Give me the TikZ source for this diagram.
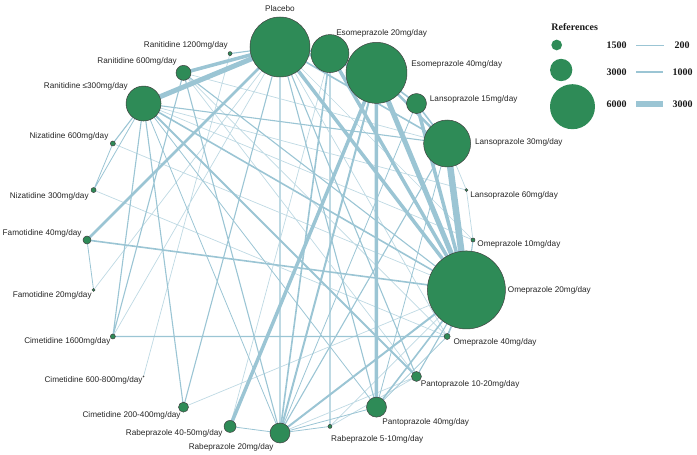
\documentclass[tikz,border=0pt]{standalone}
\usepackage{fontspec}
\setmainfont{Liberation Sans}
\newfontfamily\legendfont{Liberation Serif}
\usepackage[svgnames]{xcolor}
\usepackage{tikz}
\usetikzlibrary{
  positioning
}
\pgfdeclarelayer{links}
\pgfsetlayers{links,main}
\definecolor{linkblue}{RGB}{155,197,212}
\definecolor{faintblue}{RGB}{190,217,227}
\colorlet{drug}{SeaGreen}
\tikzset{
  every drug/.style={circle,draw=black!75,line width=.5pt,fill=drug,inner sep=0pt},
  drug/.style={every drug,minimum size=#1},
  legcirc/.style={circle,fill=drug,inner sep=0pt,minimum size=#1},
  lab/.style={inner sep=0pt,text=black!85,font=\fontsize{8.2}{9}\selectfont},
  legend/.style={inner sep=0pt,text=black!90,font=\legendfont\bfseries\fontsize{10}{12}\selectfont},
  link/.style={draw=linkblue,line width=#1},
  faint/.style={draw=faintblue,line width=#1},
}

\begin{document}
\begin{tikzpicture}[x=1pt,y=1pt]
\useasboundingbox (-280,240) rectangle (417,-215);
\node[drug=60pt] (P) at (90:193) {};
\node[drug=38pt] (E20) at (75:193) {};
\node[drug=61pt] (E40) at (60:193) {};
\node[drug=20pt] (L15) at (45:193) {};
\node[drug=47pt] (L30) at (30:193) {};
\node[drug=3pt] (L60) at (15:193) {};
\node[drug=4pt] (O10) at (0:193) {};
\node[drug=78pt] (O20) at (-15:193) {};
\node[drug=6pt] (O40) at (-30:193) {};
\node[drug=10pt] (PA1) at (-45:193) {};
\node[drug=20pt] (PA4) at (-60:193) {};
\node[drug=4pt] (R5) at (-75:193) {};
\node[drug=20pt] (R20) at (-90:193) {};
\node[drug=12pt] (R4) at (-105:193) {};
\node[drug=10pt] (C2) at (-120:193) {};
\node[drug=1pt] (C6) at (-135:193) {};
\node[drug=5pt] (C16) at (-150:193) {};
\node[drug=3pt] (F2) at (-165:193) {};
\node[drug=8pt] (F4) at (180:193) {};
\node[drug=5pt] (N3) at (165:193) {};
\node[drug=5pt] (N6) at (150:193) {};
\node[drug=35pt] (RA3) at (135:193) {};
\node[drug=15pt] (RA6) at (120:193) {};
\node[drug=4pt] (RA12) at (105:193) {};

\node[lab,above=5pt of P] (P-l) {Placebo};
\node[lab,above right=2.5pt and -7.5pt of E20] (E20-l) {Esomeprazole 20mg/day};
\node[lab,right=4pt of E40,yshift=8pt] (E40-l) {Esomeprazole 40mg/day};
\node[lab,right=3pt of L15,yshift=4pt] (L15-l) {Lansoprazole 15mg/day};
\node[lab,right=4pt of L30,yshift=1pt] (L30-l) {Lansoprazole 30mg/day};
\node[lab,right=2pt of L60,yshift=-5pt] (L60-l) {Lansoprazole 60mg/day};
\node[lab,right=2pt of O10,yshift=-4pt] (O10-l) {Omeprazole 10mg/day};
\node[lab,right=2pt of O20] (O20-l) {Omeprazole 20mg/day};
\node[lab,right=3pt of O40,yshift=-6pt] (O40-l) {Omeprazole 40mg/day};
\node[lab,right=-1pt of PA1,yshift=-8pt] (PA1-l) {Pantoprazole 10-20mg/day};
\node[lab,below right=4pt and -1.5pt of PA4] (PA4-l) {Pantoprazole 40mg/day};
\node[lab,below right=7.5pt and -0.5pt of R5] (R5-l) {Rabeprazole 5-10mg/day};
\node[lab,below left=3.5pt and -1pt of R20] (R20-l) {Rabeprazole 20mg/day};
\node[lab,left=1pt of R4,yshift=-7pt] (R4-l) {Rabeprazole 40-50mg/day};
\node[lab,left=-2.5pt of C2,yshift=-8pt] (C2-l) {Cimetidine 200-400mg/day};
\node[lab,left=0pt of C6,yshift=-4pt] (C6-l) {Cimetidine 600-800mg/day};
\node[lab,left=-0.5pt of C16,yshift=-4.5pt] (C16-l) {Cimetidine 1600mg/day};
\node[lab,left=0pt of F2,yshift=-5pt] (F2-l) {Famotidine 20mg/day};
\node[lab,left=1pt of F4,yshift=7pt] (F4-l) {Famotidine 40mg/day};
\node[lab,left=2pt of N3,yshift=-6pt] (N3-l) {Nizatidine 300mg/day};
\node[lab,left=1.5pt of N6,yshift=7.5pt] (N6-l) {Nizatidine 600mg/day};
\node[lab,above left=0.5pt and 3pt of RA3] (RA3-l) {Ranitidine ≤300mg/day};
\node[lab,above left=2pt and 1pt of RA6] (RA6-l) {Ranitidine 600mg/day};
\node[lab,above left=3pt and 0.5pt of RA12] (RA12-l) {Ranitidine 1200mg/day};

\begin{pgfonlayer}{links}
\path[faint=1.2pt] (P.center) -- (R20.center) (E20.center) -- (R5.center);
\path[faint=.7pt] (RA12.center) -- (C6.center) (F2.center) -- (P.center)
  (C16.center) -- (P.center) (N3.center) -- (O40.center)
  (C2.center) -- (O20.center) (R20.center) -- (PA1.center)
  (R5.center) -- (PA1.center) (RA3.center) -- (O10.center)
  (RA3.center) -- (L60.center) (RA6.center) -- (L30.center)
  (RA6.center) -- (O40.center) (P.center) -- (O40.center)
  (P.center) -- (O10.center) (O20.center) -- (R5.center)
  (E20.center) -- (R4.center) (L60.center) -- (L30.center)
  (L60.center) -- (O10.center) (N6.center) -- (O20.center)
  (RA6.center) -- (PA1.center);
\path[link=.8pt] (N3.center) -- (N6.center) (N3.center) -- (RA3.center)
  (R4.center) -- (R20.center) (R20.center) -- (RA3.center)
  (R20.center) -- (PA4.center) (R20.center) -- (R5.center)
  (PA4.center) -- (O40.center) (PA4.center) -- (L30.center)
  (F4.center) -- (F2.center) (RA3.center) -- (PA4.center)
  (L15.center) -- (R20.center);
\path[link=1.1pt] (RA12.center) -- (P.center) (RA3.center) -- (N6.center)
  (RA3.center) -- (C2.center) (RA3.center) -- (C16.center)
  (RA3.center) -- (L30.center) (RA6.center) -- (C16.center)
  (RA6.center) -- (R20.center) (RA6.center) -- (O20.center)
  (C2.center) -- (P.center) (C16.center) -- (O40.center)
  (P.center) -- (PA4.center) (P.center) -- (PA1.center)
  (R20.center) -- (L30.center) (O10.center) -- (O20.center)
  (PA1.center) -- (O20.center);
\path[link=1.6pt] (F4.center) -- (O20.center) (RA3.center) -- (O20.center)
  (E20.center) -- (R20.center) (P.center) -- (L30.center)
  (L15.center) -- (L30.center) (L15.center) -- (E40.center)
  (O20.center) -- (O40.center) (O20.center) -- (PA4.center)
  (E20.center) -- (E40.center) (E20.center) -- (P.center);
\path[link=2pt] (RA3.center) -- (PA1.center) (R20.center) -- (E40.center)
  (R20.center) -- (O20.center);
\path[link=2.5pt] (F4.center) -- (P.center) (E40.center) -- (L30.center)
  (P.center) -- (E40.center);
\path[link=3.5pt] (RA6.center) -- (P.center) (E20.center) -- (O20.center)
  (P.center) -- (O20.center) (L15.center) -- (O20.center)
  (R4.center) -- (E40.center) (PA4.center) -- (E40.center);
\path[link=5pt] (RA3.center) -- (P.center) (E40.center) -- (O20.center);
\path[link=6.5pt] (L30.center) -- (O20.center);
\end{pgfonlayer}

\node[legend] (ref-t) at (294.7,213.3) {References};
\node[legcirc=10.7pt] (c1500) at (276.7,195) {};
\node[legcirc=22.3pt] (c3000) at (281.2,170) {};
\node[legcirc=45pt] (c6000) at (292.5,133.3) {};
\node[legend] (n1500) at (336.7,194.3) {1500};
\node[legend] (n3000) at (336.7,167.7) {3000};
\node[legend] (n6000) at (336.7,136) {6000};
\node[legend] (w200) at (402.2,194.3) {200};
\node[legend] (w1000) at (402.5,167.7) {1000};
\node[legend] (w3000) at (402.5,136) {3000};
\draw[link=.7pt,shorten <=9.3pt,shorten >=10.5pt] (n1500) -- (w200);
\draw[link=2.3pt,shorten <=9.3pt,shorten >=9pt] (n3000) -- (w1000);
\draw[link=5.3pt,shorten <=9.3pt,shorten >=9pt] (n6000) -- (w3000);
\end{tikzpicture}
\end{document}
